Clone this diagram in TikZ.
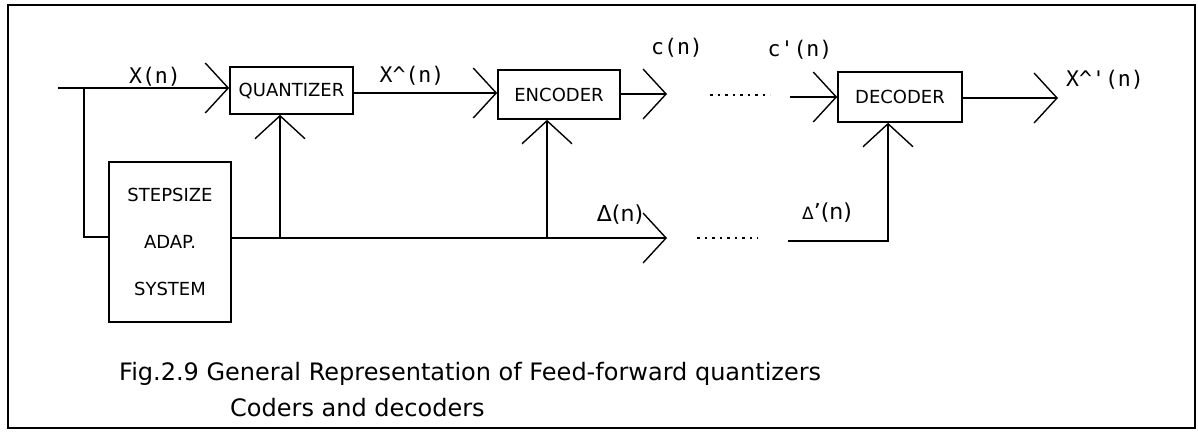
\documentclass[tikz,border=0pt]{standalone}
\usepackage{fontspec}
\setmainfont{DejaVu Sans}
\newfontfamily\monof{DejaVu Sans Mono}
\usetikzlibrary{arrows.meta}
\begin{document}
\begin{tikzpicture}[x=1pt,y=-1pt,
  blk/.style={draw,line width=1.6pt,inner sep=0pt,font=\fontsize{18}{21}\selectfont},
  sig/.style={line width=1.6pt},
  arr/.style={sig,-{Straight Barb[length=23pt,width=50pt,line width=1.4pt]}},
  lbl/.style={font=\monof\fontsize{21.5}{24}\selectfont,inner sep=0pt},
  dlbl/.style={font=\fontsize{22}{26}\selectfont,inner sep=0pt},
  dotline/.style={line width=1.6pt,dash pattern=on 2.5pt off 5pt},
  captxt/.style={font=\fontsize{24}{28}\selectfont,inner sep=0pt,anchor=west}]
\useasboundingbox (0,0) rectangle (1198,431);
\draw[line width=1.8pt] (8,5) rectangle (1195,428);
% blocks
\node[blk,minimum width=123pt,minimum height=47pt] (q) at (291.5,90.5) {QUANTIZER};
\node[blk,minimum width=122pt,minimum height=49pt] (enc) at (559,94.5) {ENCODER};
\node[blk,minimum width=124pt,minimum height=50pt] (dec) at (900,97) {DECODER};
\node[blk,minimum width=122pt,minimum height=160pt,align=center,
      font=\fontsize{18}{47}\selectfont] (ss) at (170,242) {STEPSIZE\\ADAP.\\SYSTEM};
% coordinates
\coordinate (in) at (58,88);
\coordinate (j1) at (84,88);
\coordinate (qo) at (400,93);
\coordinate (cout) at (667,94);
\coordinate (d1a) at (710,95);
\coordinate (d1b) at (770,95);
\coordinate (cin) at (790,97);
\coordinate (xout) at (1058,98);
\coordinate (dl) at (84,237);
\coordinate (jq) at (280,237);
\coordinate (je) at (547,237);
\coordinate (dout) at (667,238);
\coordinate (d2a) at (697,238);
\coordinate (d2b) at (758,238);
\coordinate (din) at (788,241);
\coordinate (dc) at (888,241);
% connectors
\draw[arr] (in) -- (in -| q.west);
\draw[sig] (j1) -- (dl) -- (dl -| ss.west);
\draw[arr] (q.east |- qo) -- (enc.west |- qo);
\draw[arr] (enc.east |- cout) -- (cout);
\draw[dotline] (d1a) -- (d1b);
\draw[arr] (cin) -- (cin -| dec.west);
\draw[arr] (dec.east |- xout) -- (xout);
\draw[arr] (ss.east |- dout) -- (dout);
\draw[arr] (jq) -- (jq |- q.south);
\draw[arr] (je) -- (je |- enc.south);
\draw[dotline] (d2a) -- (d2b);
\draw[arr] (din) -- (dc) -- (dc |- dec.south);
% labels
\node[lbl] (lx) at (155,77) {X(n)};
\node[lbl] (lxq) at (412,76) {X\textasciicircum(n)};
\node[lbl] (lc) at (677,48) {c(n)};
\node[lbl] (lcp) at (800,50) {c'(n)};
\node[lbl] (lxo) at (1105,80) {X\textasciicircum'(n)};
\node[dlbl] (ld) at (620,215) {Δ(n)};
\node[dlbl] (ldp) at (827,213) {{\fontsize{17}{20}\selectfont Δ}'(n)};
% caption
\node[captxt] (cap1) at (119,374) {Fig.2.9 General Representation of Feed-forward quantizers};
\node[captxt] (cap2) at (230,408) {Coders and decoders};
\end{tikzpicture}
\end{document}
